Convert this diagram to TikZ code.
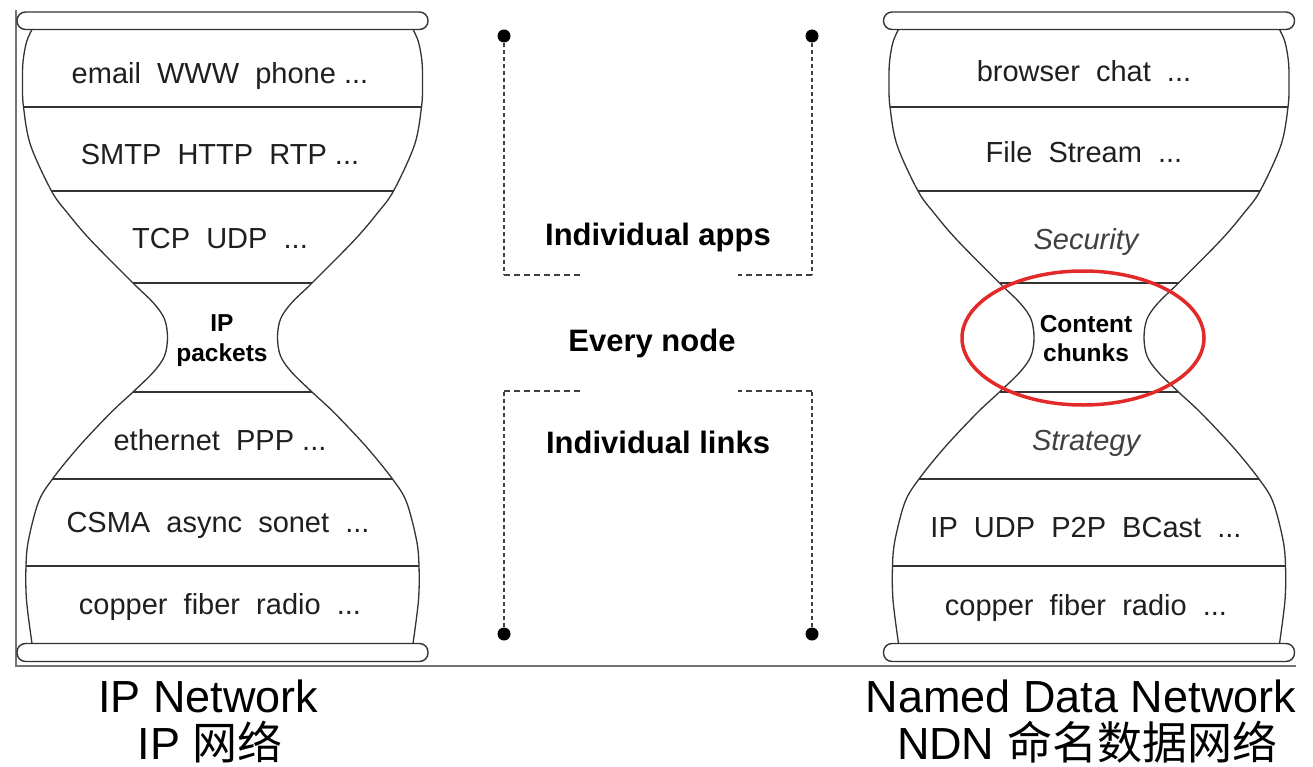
\documentclass[tikz,border=0pt]{standalone}
\usepackage{fontspec}
\setmainfont{Liberation Sans}
\newfontfamily\cjk{Noto Sans CJK SC}
\definecolor{ringred}{RGB}{226,42,42}
\begin{document}
\begin{tikzpicture}[x=1pt,y=-1pt,
  hgline/.style={draw=black!80, line width=1.3pt},
  barshape/.style={draw=black!80, line width=1.4pt, rounded corners=8.5pt},
  frameline/.style={draw=black!55, line width=1.6pt},
  layer/.style={font=\fontsize{29}{34}\selectfont, text=black!88, inner sep=0pt, anchor=base},
  layerit/.style={font=\fontsize{29}{34}\selectfont\itshape, text=black!75, inner sep=0pt, anchor=base},
  waisttext/.style={font=\fontsize{24.5}{31}\selectfont\bfseries, text=black, inner sep=0pt, anchor=base},
  midtext/.style={font=\fontsize{31}{36}\selectfont\bfseries, text=black, inner sep=0pt, anchor=base},
  captext/.style={font=\fontsize{45}{50}\selectfont, text=black, inner sep=0pt, anchor=base},
  vdash/.style={draw=black!75, line width=1.3pt, dash pattern=on 4pt off 3pt},
  hdash/.style={draw=black!75, line width=1.3pt, dash pattern=on 6pt off 4pt},
  dotnode/.style={circle, fill=black, inner sep=0pt, minimum size=13pt},
  ring/.style={draw=ringred, line width=3.5pt},
  hourglass/.pic={
    \draw[barshape] (-205.5,12) rectangle (205.5,29.5);
    \draw[barshape] (-205.5,643.5) rectangle (205.5,661.5);
    \foreach \s in {1,-1}{
      \draw[hgline, xscale=\s] plot[smooth, tension=0.55] coordinates {
        (-190.5,29.5) (-196,42) (-199.5,62) (-200,85) (-199,107) (-192,145)
        (-171,191) (-155,213) (-132,240) (-89.5,283) (-69,303) (-58,319)
        (-55,337.5) (-58,356) (-69,372) (-89.5,392) (-112,413) (-144,447)
        (-170,479) (-184,502) (-194,540) (-196.5,566) (-196,600) (-190.5,643.5)};
    }
    \foreach \y/\w in {107/199,191/171,283/89.5,392/89.5,479/170,566/196.5}
      \draw[hgline] (-\w,\y) -- (\w,\y);
  }
]
\useasboundingbox (0,0) rectangle (1313,767);
\fill[white] (0,0) rectangle (1313,767);

% frame
\draw[frameline] (16,10) -- (16,666) -- (1296,666);

% hourglasses
\pic at (222.5,0) {hourglass};
\pic at (1089,0) {hourglass};

% left layers
\node[layer] (l1) at (220,84) {email\ \ WWW\ \ phone ...};
\node[layer] (l2) at (220,165) {SMTP\ \ HTTP\ \ RTP ...};
\node[layer] (l3) at (220,248) {TCP\ \ UDP\ \ ...};
\node[waisttext] (l4a) at (222,331) {IP};
\node[waisttext] (l4b) at (222,361) {packets};
\node[layer] (l5) at (220,450) {ethernet\ \ PPP ...};
\node[layer] (l6) at (218,532) {CSMA\ \ async\ \ sonet\ \ ...};
\node[layer] (l7) at (220,614) {copper\ \ fiber\ \ radio\ \ ...};

% right layers
\node[layer] (r1) at (1084,82) {browser\ \ chat\ \ ...};
\node[layer] (r2) at (1084,163) {File\ \ Stream\ \ ...};
\node[layerit] (r3) at (1086,250) {Security};
\node[waisttext] (r4a) at (1086,332) {Content};
\node[waisttext] (r4b) at (1086,361) {chunks};
\node[layerit] (r5) at (1086,450) {Strategy};
\node[layer] (r6) at (1086,537) {IP\ \ UDP\ \ P2P\ \ BCast\ \ ...};
\node[layer] (r7) at (1086,615) {copper\ \ fiber\ \ radio\ \ ...};

% red ring
\draw[ring] (1083,338) ellipse [x radius=121pt, y radius=67pt];

% middle brackets
\node[dotnode] (d1) at (504,36) {};
\node[dotnode] (d2) at (812,36) {};
\node[dotnode] (d3) at (504,634) {};
\node[dotnode] (d4) at (812,634) {};
\coordinate (c1) at (504,275);
\coordinate (c1e) at (580,275);
\coordinate (c2) at (812,275);
\coordinate (c2e) at (738,275);
\coordinate (c3) at (504,391);
\coordinate (c3e) at (580,391);
\coordinate (c4) at (812,391);
\coordinate (c4e) at (738,391);
\draw[vdash] (d1) -- (c1);
\draw[hdash] (c1) -- (c1e);
\draw[vdash] (d2) -- (c2);
\draw[hdash] (c2) -- (c2e);
\draw[vdash] (d3) -- (c3);
\draw[hdash] (c3) -- (c3e);
\draw[vdash] (d4) -- (c4);
\draw[hdash] (c4) -- (c4e);

\node[midtext] (apps) at (658,246) {Individual apps};
\node[midtext] (every) at (652,351) {Every node};
\node[midtext] (links) at (658,453) {Individual links};

% captions
\node[captext] (capL1) at (208.5,712) {IP Network};
\node[captext] (capL2) at (210,759) {IP {\cjk 网络}};
\node[captext] (capR1) at (1081,712) {Named Data Network};
\node[captext] (capR2) at (1087,759) {NDN {\cjk 命名数据网络}};
\end{tikzpicture}
\end{document}
